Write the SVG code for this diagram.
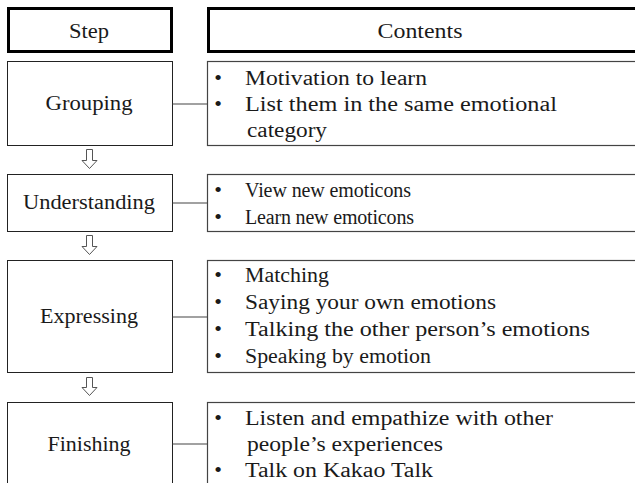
<svg xmlns="http://www.w3.org/2000/svg" width="635" height="483" viewBox="0 0 635 483">
<style>
text{font-family:"Liberation Serif","Times New Roman",serif;fill:#1a1a1a;font-size:20px}
.hd{fill:#fff;stroke:#000;stroke-width:3}
.bx{fill:#fff;stroke:#222;stroke-width:1}
.cb{fill:#fff;stroke:#444;stroke-width:1.2}
.c{text-anchor:middle}
.conn line{stroke:#444;stroke-width:1.2}
.arr{fill:#fff;stroke:#555;stroke-width:1}
.b{font-size:22px;text-anchor:middle}
</style>
<rect width="635" height="483" fill="#fff"/>
<g id="hdr-step"><rect class="hd" x="8.5" y="8.5" width="163" height="43"/><text class="c" x="89" y="38" font-size="18" textLength="40" lengthAdjust="spacingAndGlyphs">Step</text></g>
<g id="hdr-contents"><rect class="hd" x="208.5" y="8.5" width="440" height="43"/><text class="c" x="420" y="38" font-size="18" textLength="85" lengthAdjust="spacingAndGlyphs">Contents</text></g>

<g id="grouping"><rect class="bx" x="7.5" y="61.5" width="165" height="84"/><text class="c" x="89" y="110" textLength="87" lengthAdjust="spacingAndGlyphs">Grouping</text></g>
<g id="grouping-contents"><rect class="cb" x="207.5" y="61.5" width="440" height="84"/>
<text class="b" x="218" y="85">•</text><text x="245" y="85" textLength="182" lengthAdjust="spacingAndGlyphs">Motivation to learn</text>
<text class="b" x="218" y="111">•</text><text x="245" y="111" textLength="312" lengthAdjust="spacingAndGlyphs">List them in the same emotional</text>
<text x="247" y="137" textLength="80" lengthAdjust="spacingAndGlyphs">category</text></g>

<g id="understanding"><rect class="bx" x="7.5" y="174.5" width="165" height="57"/><text class="c" x="89" y="209" textLength="132" lengthAdjust="spacingAndGlyphs">Understanding</text></g>
<g id="understanding-contents"><rect class="cb" x="207.5" y="174.5" width="440" height="57"/>
<text class="b" x="218" y="197">•</text><text x="245" y="197" textLength="166" lengthAdjust="spacing">View new emoticons</text>
<text class="b" x="218" y="224">•</text><text x="245" y="224" textLength="169" lengthAdjust="spacing">Learn new emoticons</text></g>

<g id="expressing"><rect class="bx" x="7.5" y="260.5" width="165" height="112"/><text class="c" x="89" y="323" textLength="98" lengthAdjust="spacingAndGlyphs">Expressing</text></g>
<g id="expressing-contents"><rect class="cb" x="207.5" y="260.5" width="440" height="112"/>
<text class="b" x="218" y="282">•</text><text x="245" y="282" textLength="84" lengthAdjust="spacingAndGlyphs">Matching</text>
<text class="b" x="218" y="309">•</text><text x="245" y="309" textLength="251" lengthAdjust="spacingAndGlyphs">Saying your own emotions</text>
<text class="b" x="218" y="336">•</text><text x="245" y="336" textLength="345" lengthAdjust="spacingAndGlyphs">Talking the other person’s emotions</text>
<text class="b" x="218" y="363">•</text><text x="245" y="363" textLength="186" lengthAdjust="spacingAndGlyphs">Speaking by emotion</text></g>

<g id="finishing"><rect class="bx" x="7.5" y="402.5" width="165" height="100"/><text class="c" x="89" y="451" textLength="83" lengthAdjust="spacingAndGlyphs">Finishing</text></g>
<g id="finishing-contents"><rect class="cb" x="207.5" y="402.5" width="440" height="100"/>
<text class="b" x="218" y="425">•</text><text x="245" y="425" textLength="308" lengthAdjust="spacingAndGlyphs">Listen and empathize with other</text>
<text x="247" y="451" textLength="196" lengthAdjust="spacingAndGlyphs">people’s experiences</text>
<text class="b" x="218" y="477">•</text><text x="245" y="477" textLength="188" lengthAdjust="spacingAndGlyphs">Talk on Kakao Talk</text></g>

<g class="conn" id="connectors">
<line x1="172.5" y1="104" x2="207.5" y2="104"/>
<line x1="172.5" y1="203" x2="207.5" y2="203"/>
<line x1="172.5" y1="317" x2="207.5" y2="317"/>
<line x1="172.5" y1="444" x2="207.5" y2="444"/>
<path class="arr" d="M86.5 149.5H92.5V160.5H97L89.5 168.5L82 160.5H86.5Z"/>
<path class="arr" d="M86.5 235.5H92.5V246.5H97L89.5 254.5L82 246.5H86.5Z"/>
<path class="arr" d="M86.5 377.5H92.5V387.5H97L89.5 395.5L82 387.5H86.5Z"/>
</g>
</svg>
